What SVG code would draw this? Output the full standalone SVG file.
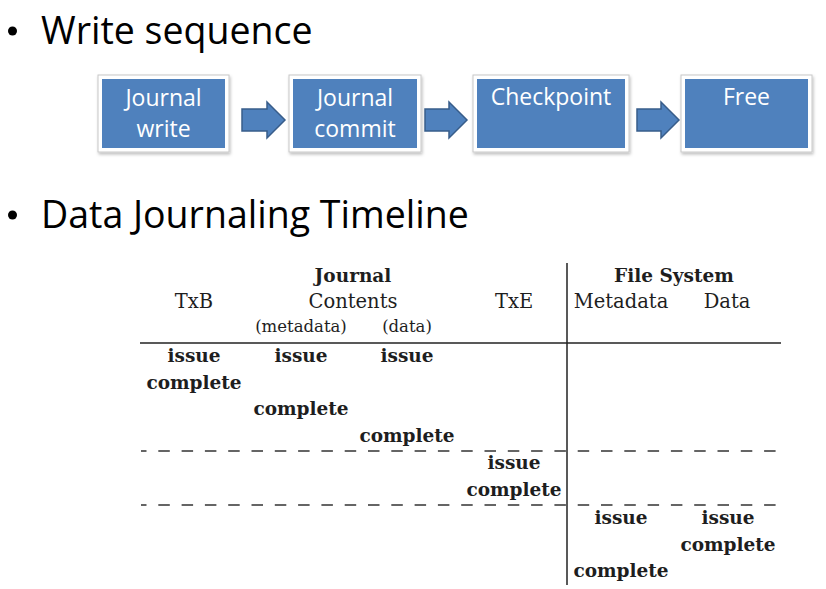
<svg xmlns="http://www.w3.org/2000/svg" width="826" height="589" viewBox="0 0 826 589">
  <style>
    .title { font-family: "Open Sans", "Liberation Sans", sans-serif; font-size: 37.5px; fill: #000; }
    .frame { fill: #fff; stroke: #c8c8c8; stroke-width: 1; }
    .box { fill: #4f81bd; }
    .label { font-family: "Open Sans", "Liberation Sans", sans-serif; font-size: 23px; fill: #fff; text-anchor: middle; }
    .arrow { fill: #4f81bd; stroke: #385d8a; stroke-width: 1.5; stroke-linejoin: miter; }
    .hd { font-family: "DejaVu Serif", "Liberation Serif", serif; font-size: 19.5px; fill: #1e1e1e; text-anchor: middle; }
    .hb { font-family: "DejaVu Serif", "Liberation Serif", serif; font-size: 18.5px; font-weight: bold; fill: #1e1e1e; text-anchor: middle; }
    .sub { font-family: "DejaVu Serif", "Liberation Serif", serif; font-size: 16.5px; fill: #1e1e1e; text-anchor: middle; }
    .ev { font-family: "DejaVu Serif", "Liberation Serif", serif; font-size: 18.5px; font-weight: bold; fill: #1e1e1e; text-anchor: middle; }
    .rule { stroke: #222; stroke-width: 1.5; fill: none; }
    .dash { stroke: #333; stroke-width: 1.4; fill: none; stroke-dasharray: 11.5 11.8; stroke-dashoffset: 6; }
  </style>
  <defs>
    <filter id="shadow" x="-10%" y="-10%" width="125%" height="130%">
      <feDropShadow dx="1" dy="2" stdDeviation="1.5" flood-color="#000" flood-opacity="0.25"/>
    </filter>
  </defs>

  <rect width="826" height="589" fill="#fff"/>

  <!-- headings -->
  <g id="heading-write">
    <circle cx="12.5" cy="31" r="4.5" fill="#000"/>
    <text class="title" x="41" y="44">Write sequence</text>
  </g>
  <g id="heading-timeline">
    <circle cx="12.5" cy="215" r="4.5" fill="#000"/>
    <text class="title" x="41" y="228">Data Journaling Timeline</text>
  </g>

  <!-- write sequence steps -->
  <g id="step-journal-write">
    <rect class="frame" x="98" y="75" width="131" height="77" filter="url(#shadow)"/>
    <rect class="box" x="102" y="79" width="123" height="69"/>
    <text class="label" x="163.5" y="106">Journal</text>
    <text class="label" x="163.5" y="137">write</text>
  </g>
  <g id="step-journal-commit">
    <rect class="frame" x="289" y="75" width="132" height="77" filter="url(#shadow)"/>
    <rect class="box" x="293" y="79" width="124" height="69"/>
    <text class="label" x="355" y="106">Journal</text>
    <text class="label" x="355" y="137">commit</text>
  </g>
  <g id="step-checkpoint">
    <rect class="frame" x="473" y="75" width="156" height="77" filter="url(#shadow)"/>
    <rect class="box" x="477" y="79" width="148" height="69"/>
    <text class="label" x="551" y="105">Checkpoint</text>
  </g>
  <g id="step-free">
    <rect class="frame" x="681" y="75" width="131" height="77" filter="url(#shadow)"/>
    <rect class="box" x="685" y="79" width="123" height="69"/>
    <text class="label" x="746.5" y="105">Free</text>
  </g>

  <!-- block arrows between steps -->
  <g id="connectors">
    <path class="arrow" d="M242,109 H267 V102 L285,120 L267,138 V131 H242 Z"/>
    <path class="arrow" d="M425,109 H449 V102 L467,120 L449,138 V131 H425 Z"/>
    <path class="arrow" d="M637,109 H661 V102 L679,120 L661,138 V131 H637 Z"/>
  </g>

  <!-- timeline table -->
  <g id="timeline">
    <line class="rule" x1="140" y1="343" x2="781" y2="343"/>
    <line class="rule" x1="567" y1="263" x2="567" y2="585"/>
    <line class="dash" x1="141" y1="451" x2="781" y2="451"/>
    <line class="dash" x1="141" y1="505" x2="781" y2="505"/>

    <text class="hb" x="353" y="282">Journal</text>
    <text class="hb" x="674" y="282">File System</text>
    <text class="hd" x="194" y="308">TxB</text>
    <text class="hd" x="353" y="308">Contents</text>
    <text class="hd" x="514" y="308">TxE</text>
    <text class="hd" x="621" y="308">Metadata</text>
    <text class="hd" x="727" y="308">Data</text>
    <text class="sub" x="301" y="332">(metadata)</text>
    <text class="sub" x="407" y="332">(data)</text>

    <text class="ev" x="194" y="362">issue</text>
    <text class="ev" x="301" y="362">issue</text>
    <text class="ev" x="407" y="362">issue</text>
    <text class="ev" x="194" y="389">complete</text>
    <text class="ev" x="301" y="415">complete</text>
    <text class="ev" x="407" y="442">complete</text>
    <text class="ev" x="514" y="469">issue</text>
    <text class="ev" x="514" y="496">complete</text>
    <text class="ev" x="621" y="524">issue</text>
    <text class="ev" x="728" y="524">issue</text>
    <text class="ev" x="728" y="551">complete</text>
    <text class="ev" x="621" y="577">complete</text>
  </g>
</svg>
